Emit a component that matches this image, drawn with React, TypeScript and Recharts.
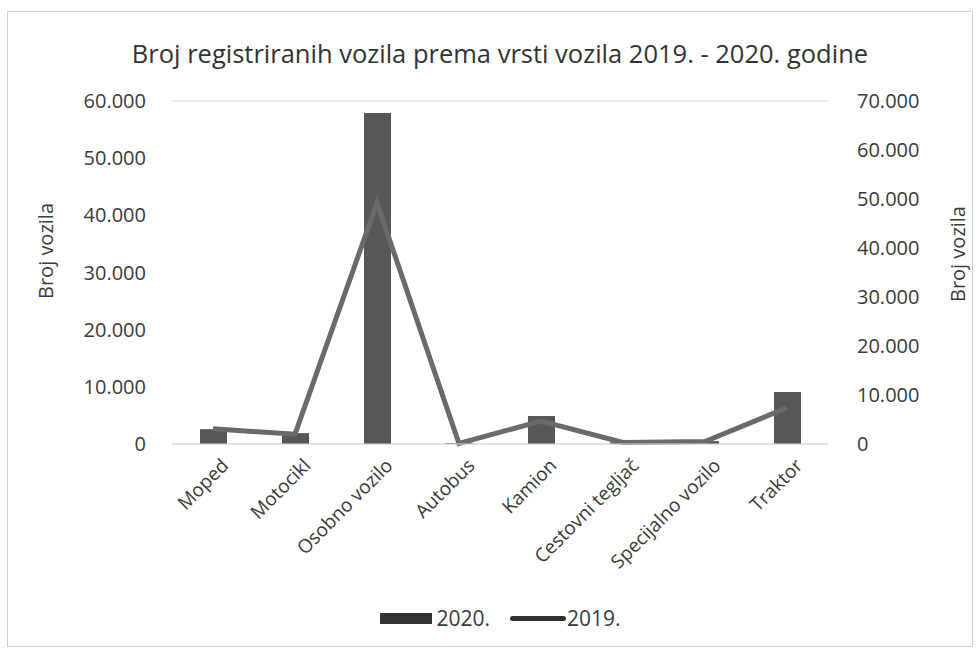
import {
  ComposedChart,
  Bar,
  Line,
  XAxis,
  YAxis,
  CartesianGrid,
  Legend,
} from "recharts";

const categories = [
  "Moped",
  "Motocikl",
  "Osobno vozilo",
  "Autobus",
  "Kamion",
  "Cestovni tegljač",
  "Specijalno vozilo",
  "Traktor",
];

const values2020 = [2600, 1900, 57900, 150, 4900, 300, 500, 9100];
const values2019 = [3100, 2000, 49200, 100, 4700, 300, 500, 7400];

const leftTicks = [0, 10000, 20000, 30000, 40000, 50000, 60000];
const rightTicks = [0, 10000, 20000, 30000, 40000, 50000, 60000, 70000];

const data = categories.map((name, i) => ({
  name,
  y2020: values2020[i],
  y2019: values2019[i],
}));

const FONT = "'Open Sans', 'Noto Sans', sans-serif";
const TEXT = "#3a3a3a";
const BAR = "#575757";
const LINE = "#6a6a6a";

const fmt = (v: number) =>
  v === 0 ? "0" : v.toLocaleString("de-DE", { maximumFractionDigits: 0 });

function CategoryTick(props: any) {
  const { x, y, payload } = props;
  return (
    <g transform={`translate(${x + 14},${y + 12})`}>
      <text
        textAnchor="end"
        transform="rotate(-45)"
        fill={TEXT}
        fontSize={19}
        fontFamily={FONT}
        dy={4}
      >
        {payload.value}
      </text>
    </g>
  );
}

// vertical axis title at a fixed point
const axisTitle = (cx: number, cy: number) => () => (
  <text
    x={cx}
    y={cy}
    transform={`rotate(-90, ${cx}, ${cy})`}
    textAnchor="middle"
    dominantBaseline="central"
    fill={TEXT}
    fontSize={20}
    fontFamily={FONT}
  >
    Broj vozila
  </text>
);

function LegendContent() {
  return (
    <div
      style={{
        display: "flex",
        justifyContent: "center",
        alignItems: "center",
        gap: 20,
        marginTop: 10,
        fontFamily: FONT,
        fontSize: 21,
        color: TEXT,
        paddingLeft: 24,
      }}
    >
      <div style={{ display: "flex", alignItems: "center", gap: 4 }}>
        <div style={{ width: 52, height: 11, background: "#333" }} />
        <span>2020.</span>
      </div>
      <div style={{ display: "flex", alignItems: "center", gap: 1 }}>
        <div
          style={{
            width: 56,
            height: 5,
            borderRadius: 3,
            background: "#333",
          }}
        />
        <span>2019.</span>
      </div>
    </div>
  );
}

export default function App() {
  return (
    <div
      style={{
        position: "absolute",
        left: 0,
        top: 0,
        width: 977,
        height: 651,
        background: "#fff",
      }}
    >
      <div
        style={{
          position: "absolute",
          left: 7,
          top: 11,
          width: 964,
          height: 634,
          border: "1px solid #d0d0d0",
        }}
      />
      <div
        style={{
          position: "absolute",
          left: 0,
          top: 36,
          width: 1000,
          textAlign: "center",
          fontFamily: FONT,
          fontSize: 25.5,
          color: "#333",
        }}
      >
        Broj registriranih vozila prema vrsti vozila 2019. - 2020. godine
      </div>
      <ComposedChart
        width={977}
        height={651}
        data={data}
        margin={{ top: 101, right: 0, bottom: 0, left: 0 }}
        style={{ position: "absolute", left: 0, top: 0 }}
      >
        <CartesianGrid vertical={false} stroke="#d9d9d9" />
        <XAxis
          dataKey="name"
          height={150}
          interval={0}
          tick={<CategoryTick />}
          tickLine={false}
          axisLine={{ stroke: "#d9d9d9" }}
        />
        <YAxis
          yAxisId="left"
          domain={[0, 60000]}
          ticks={leftTicks}
          tickFormatter={fmt}
          width={172}
          tickLine={false}
          axisLine={false}
          tickMargin={20}
          tick={{ fill: TEXT, fontSize: 20, fontFamily: FONT }}
          label={{ content: axisTitle(45, 251) }}
        />
        <YAxis
          yAxisId="right"
          orientation="right"
          domain={[0, 70000]}
          ticks={rightTicks}
          tickFormatter={fmt}
          width={149}
          tickLine={false}
          axisLine={false}
          tickMargin={23}
          tick={{ fill: TEXT, fontSize: 20, fontFamily: FONT, textAnchor: "start" }}
          label={{ content: axisTitle(957, 254) }}
        />
        <Legend
          verticalAlign="bottom"
          height={57}
          content={<LegendContent />}
        />
        <Bar
          yAxisId="left"
          dataKey="y2020"
          name="2020."
          fill={BAR}
          barSize={27}
          isAnimationActive={false}
        />
        <Line
          yAxisId="right"
          dataKey="y2019"
          name="2019."
          stroke={LINE}
          strokeWidth={5}
          dot={false}
          isAnimationActive={false}
        />
      </ComposedChart>
    </div>
  );
}
